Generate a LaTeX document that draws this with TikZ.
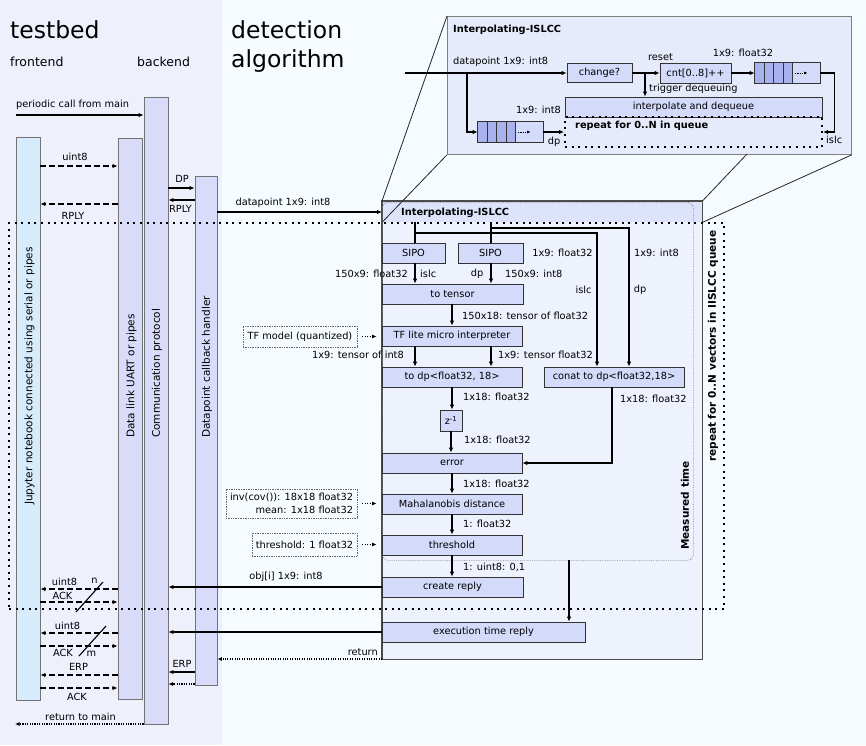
\documentclass[tikz,border=0pt]{standalone}
\usepackage{fontspec}
\setmainfont{DejaVu Sans}
\usetikzlibrary{arrows.meta,calc}
\definecolor{leftbg}{RGB}{238,241,252}
\definecolor{rightbg}{RGB}{245,251,254}
\definecolor{jupfill}{RGB}{214,235,251}
\definecolor{barfill}{RGB}{216,219,250}
\definecolor{boxfill}{RGB}{211,218,250}
\definecolor{mainfill}{RGB}{238,242,253}
\definecolor{hdrfill}{RGB}{221,227,251}
\definecolor{insetfill}{RGB}{230,235,251}
\definecolor{cellfill}{RGB}{168,178,238}
\newcommand\lblf{\fontsize{9.8}{11.5}\selectfont}
\newcommand\rotf{\fontsize{10.5}{12}\selectfont}
\newcommand\qcells[1]{%
  \foreach \i in {0,1,2,3}
    \draw[fill=cellfill, line width=0.7pt, draw=black!80] ($(#1.north west)+(\i*9.5,0)$) rectangle ++(9.5,21);
  \draw[densely dotted, line width=0.9pt, -{Latex[length=3.5pt,width=3pt]}] ($(#1.west)+(40,0)$) -- ++(13,0);
}
\begin{document}
\begin{tikzpicture}[x=1pt,y=-1pt,
  lbl/.style={font=\lblf, inner sep=0pt, text=black},
  box/.style={draw=black!80, fill=boxfill, line width=0.8pt, inner sep=0pt, font=\lblf},
  bar/.style={draw=black!55, fill=barfill, line width=0.9pt, inner sep=0pt},
  inbox/.style={draw=black!60, densely dotted, line width=0.7pt, fill=rightbg, inner sep=0pt, font=\lblf},
  rotl/.style={rotate=90, anchor=west, font=\rotf, inner sep=0pt},
  ar/.style={line width=1.5pt, -{Latex[length=5pt,width=4.5pt]}},
  ln/.style={line width=1.5pt},
  sar/.style={line width=1.4pt, -{Latex[length=5pt,width=4.5pt]}},
  dar/.style={line width=1.4pt, dash pattern=on 6pt off 3pt, -{Latex[length=5pt,width=4.5pt]}},
  dotar/.style={line width=1.1pt, dash pattern=on 1.1pt off 1.3pt, -{Latex[length=4.5pt,width=4pt]}},
  loopbox/.style={draw=black, line width=2pt, dash pattern=on 2pt off 4.6pt, inner sep=0pt},
  proj/.style={line width=0.8pt, draw=black!85}
]
\useasboundingbox (0,0) rectangle (866,745);
\fill[leftbg] (0,0) rectangle (222,745);
\fill[rightbg] (222,0) rectangle (866,745);

% titles
\node[anchor=base west, inner sep=0pt, font=\fontsize{23.5}{28}\selectfont] (ttest) at (10,38) {testbed};
\node[anchor=base west, inner sep=0pt, font=\fontsize{12.5}{15}\selectfont] (tfront) at (10,66) {frontend};
\node[anchor=base west, inner sep=0pt, font=\fontsize{12.5}{15}\selectfont] (tback) at (137,66) {backend};
\node[anchor=base west, inner sep=0pt, font=\fontsize{23.5}{28}\selectfont] (tdet) at (231,38) {detection};
\node[anchor=base west, inner sep=0pt, font=\fontsize{23.5}{28}\selectfont] (talg) at (231,67) {algorithm};

% main box
\node[fill=mainfill, minimum width=320pt, minimum height=458pt, inner sep=0pt, anchor=north west] (mainbox) at (382,201) {};
\node[fill=hdrfill, minimum width=320pt, minimum height=21pt, inner sep=0pt, anchor=north west] (hdr) at (382,201) {};
\draw[draw=black!70, line width=1.2pt] (mainbox.north west) rectangle (mainbox.south east);
\node[lbl, anchor=west, font=\lblf\bfseries] (hdrt) at (401,213) {Interpolating-ISLCC};
\node[draw=black!50, densely dotted, rounded corners=6pt, line width=0.7pt, minimum width=311pt, minimum height=358pt, inner sep=0pt, anchor=north west] (mt) at (382,202) {};
\node[rotl, font=\rotf\bfseries] (mtt) at (685,550) {Measured time};

% bars
\node[bar, fill=jupfill, minimum width=24pt, minimum height=563pt] (jup) at (28,418.5) {};
\node[bar, minimum width=24pt, minimum height=561pt] (dl) at (130,418.5) {};
\node[bar, minimum width=24pt, minimum height=627pt] (comm) at (156,410.5) {};
\node[bar, minimum width=22pt, minimum height=509pt] (dcb) at (206,430.5) {};
\node[rotl] (jupt) at (29.5,505) {Jupyter notebook connected using serial or pipes};
\node[rotl] (dlt) at (131.5,438) {Data link UART or pipes};
\node[rotl] (commt) at (157,438) {Communication protocol};
\node[rotl] (dcbt) at (207,438) {Datapoint callback handler};

% inset
\node[draw=black!50, fill=insetfill, line width=0.8pt, minimum width=404pt, minimum height=138pt, inner sep=0pt, anchor=north west] (inset) at (447,16) {};
\coordinate (insb) at (747,154);
\draw[proj] (mainbox.north west) -- (inset.north west);
\draw[proj] (hdr.south west) -- (inset.south west);
\draw[proj] (mainbox.north east) -- (insb);
\draw[proj] (hdr.south east) -- (inset.south east);
\node[lbl, anchor=west, font=\lblf\bfseries] (inst) at (453,30) {Interpolating-ISLCC};
\node[box, minimum width=65pt, minimum height=19pt] (change) at (599.5,73) {change?};
\node[box, minimum width=71pt, minimum height=20pt] (cnt) at (695.5,73) {cnt[0..8]++};
\node[box, minimum width=65pt, minimum height=21pt] (rq) at (787.5,73) {};
\qcells{rq}
\node[box, minimum width=257pt, minimum height=20pt] (interp) at (693.5,107) {interpolate and dequeue};
\node[loopbox, minimum width=257pt, minimum height=30pt] (rep) at (693.5,132) {};
\node[lbl, anchor=west, font=\lblf\bfseries] (rept) at (575,126) {repeat for 0..N in queue};
\node[box, minimum width=65pt, minimum height=21pt] (lq) at (510.5,132) {};
\qcells{lq}
\coordinate (dpin) at (405,73);
\coordinate (br1) at (467,73);
\coordinate (br2) at (645,73);
\draw[ar] (dpin) -- (change.west);
\draw[ar] (br1) |- (lq.west);
\draw[ar] (change.east) -- (cnt.west);
\draw[ar] (br2) -- (br2 |- interp.north);
\draw[ar] (cnt.east) -- (rq.west);
\draw[ar] (rq.east) -- ++(14,0) |- (rep.east);
\draw[ar] (lq.east) -- (lq.east -| rep.west);
\node[lbl, anchor=west] (l_dpi) at (453,62) {datapoint 1x9: int8};
\node[lbl] (l_reset) at (660.5,57) {reset};
\node[lbl, anchor=west] (l_trig) at (649,89) {trigger dequeuing};
\node[lbl] (l_f32) at (743,53) {1x9: float32};
\node[lbl, anchor=west] (l_islci) at (826,140) {islc};
\node[lbl] (l_i8) at (538.5,110) {1x9: int8};
\node[lbl] (l_dpq) at (554,142) {dp};

% main content
\node[box, minimum width=63pt, minimum height=20pt] (sipo1) at (413.5,253) {SIPO};
\node[box, minimum width=65pt, minimum height=20pt] (sipo2) at (490.5,253) {SIPO};
\node[box, minimum width=141pt, minimum height=20pt] (totensor) at (452.5,294) {to tensor};
\node[box, minimum width=140pt, minimum height=20pt] (tflite) at (452,336) {TF lite micro interpreter};
\node[box, minimum width=140pt, minimum height=20pt] (todp) at (452,377) {to dp<float32, 18>};
\node[box, minimum width=140pt, minimum height=20pt] (conat) at (614,377) {conat to dp<float32,18>};
\node[box, minimum width=22pt, minimum height=21pt] (zinv) at (451,420.5) {z\textsuperscript{-1}};
\node[box, minimum width=140pt, minimum height=20pt] (error) at (452,463) {error};
\node[box, minimum width=140pt, minimum height=20pt] (maha) at (452,504) {Mahalanobis distance};
\node[box, minimum width=140pt, minimum height=20pt] (thr) at (452,545) {threshold};
\node[box, minimum width=141pt, minimum height=20pt] (create) at (452.5,587) {create reply};
\node[box, minimum width=203pt, minimum height=20pt] (exec) at (483.5,632) {execution time reply};

\coordinate (islcT) at (415,222);
\coordinate (dpT) at (491,222);
\coordinate (islcH) at (415,233);
\coordinate (dpH) at (491,228);
\draw[ln] (islcT) -- (islcT |- sipo1.north);
\draw[ln] (dpT) -- (dpT |- sipo2.north);
\draw[ar] (islcH) -| ([xshift=-17pt]conat.north);
\draw[ar] (dpH) -| ([xshift=15pt]conat.north);
\draw[ar] (sipo1.south -| islcT) -- (totensor.north -| islcT);
\draw[ar] (sipo2.south -| dpT) -- (totensor.north -| dpT);
\draw[ar] (totensor.south -| tflite.south) -- (tflite.north);
\draw[ar] (tflite.south -| islcT) -- (todp.north -| islcT);
\draw[ar] (tflite.south -| dpT) -- (todp.north -| dpT);
\draw[ar] (todp.south) -- (todp.south |- zinv.north);
\draw[ar] (zinv.south) -- (zinv.south |- error.north);
\draw[ar] ([xshift=-2pt]conat.south) |- (error.east);
\draw[ar] (error.south) -- (maha.north);
\draw[ar] (maha.south) -- (thr.north);
\draw[ar] (thr.south) -- (thr.south |- create.north);
\coordinate (mtx) at (569,560);
\draw[ar] (mtx) -- (mtx |- exec.north);

\node[lbl] (m1) at (562.5,253) {1x9: float32};
\node[lbl] (m2) at (656.5,253) {1x9: int8};
\node[lbl, anchor=east] (m3) at (408,274) {150x9: float32};
\node[lbl, anchor=west] (m4) at (420,274) {islc};
\node[lbl] (m5) at (477,274) {dp};
\node[lbl, anchor=west] (m6) at (505,274) {150x9: int8};
\node[lbl] (m7) at (583.5,290) {islc};
\node[lbl] (m8) at (640,290) {dp};
\node[lbl, anchor=west] (m9) at (462,316) {150x18: tensor of float32};
\node[lbl, anchor=east] (m10) at (404,355) {1x9: tensor of int8};
\node[lbl, anchor=west] (m11) at (498,355) {1x9: tensor float32};
\node[lbl, anchor=west] (m12) at (463,397) {1x18: float32};
\node[lbl, anchor=west] (m13) at (620,399) {1x18: float32};
\node[lbl, anchor=west] (m14) at (464,440) {1x18: float32};
\node[lbl, anchor=west] (m15) at (463,484) {1x18: float32};
\node[lbl, anchor=west] (m16) at (463,524) {1: float32};
\node[lbl, anchor=west] (m17) at (463,567) {1: uint8: 0,1};

% inputs
\node[inbox, minimum width=114pt, minimum height=21pt] (tfm) at (300,336.5) {TF model (quantized)};
\node[inbox, minimum width=131pt, minimum height=29pt, align=right, font=\fontsize{9.8}{13.5}\selectfont] (cov) at (291.5,503.5) {inv(cov()): 18x18 float32\\mean: 1x18 float32};
\node[inbox, minimum width=105pt, minimum height=23pt] (thrv) at (304.5,544.5) {threshold: 1 float32};
\draw[dotar, shorten <=5pt, shorten >=5pt] (tfm.east) -- (tfm.east -| tflite.west);
\draw[dotar, shorten <=5pt, shorten >=5pt] (cov.east) -- (cov.east -| maha.west);
\draw[dotar, shorten <=5pt, shorten >=5pt] (thrv.east) -- (thrv.east -| thr.west);

% loop
\node[loopbox, minimum width=715pt, minimum height=386pt, anchor=north west] (loop) at (8,222) {};
\node[rotl, font=\rotf\bfseries] (loopt) at (713,462) {repeat for 0..N vectors in IISLCC queue};

% sequence arrows top
\coordinate (pcs) at (16,115);
\draw[sar] (pcs) -- (pcs -| comm.west);
\node[lbl, anchor=west] (l_pc) at (16,105) {periodic call from main};
\draw[dar] (jup.east |- 0,166) -- (dl.west |- 0,166);
\node[lbl] (l_u1) at (75,157) {uint8};
\draw[dar] (dl.west |- 0,204) -- (jup.east |- 0,204);
\node[lbl] (l_r1) at (73,216) {RPLY};
\draw[sar] (comm.east |- 0,188) -- (dcb.west |- 0,188);
\node[lbl] (l_dp) at (182,179) {DP};
\draw[sar] (dcb.west |- 0,200) -- (comm.east |- 0,200);
\node[lbl] (l_r2) at (180.5,209) {RPLY};
\draw[sar] (dcb.east |- 0,212) -- (mainbox.west |- 0,212);
\node[lbl] (l_dpm) at (283,203) {datapoint 1x9: int8};

% sequence arrows bottom
\draw[dar] (dl.west |- 0,589) -- (jup.east |- 0,589);
\node[lbl] (l_u2) at (64.5,582) {uint8};
\node[lbl] (l_n) at (94.5,581) {n};
\draw[dar] (jup.east |- 0,602) -- (dl.west |- 0,602);
\node[lbl] (l_a1) at (62.5,596) {ACK};
\coordinate (s1a) at (76,612); \coordinate (s1b) at (103,582);
\draw[line width=1.1pt] (s1a) -- (s1b);
\draw[dar] (dl.west |- 0,633) -- (jup.east |- 0,633);
\node[lbl] (l_u3) at (67.5,626) {uint8};
\draw[dar] (jup.east |- 0,646) -- (dl.west |- 0,646);
\node[lbl] (l_a2) at (63,653) {ACK};
\node[lbl] (l_m) at (91.5,654) {m};
\coordinate (s2a) at (79,656); \coordinate (s2b) at (106,626);
\draw[line width=1.1pt] (s2a) -- (s2b);
\node[lbl] (l_e1) at (78.5,667) {ERP};
\draw[dar] (dl.west |- 0,675) -- (jup.east |- 0,675);
\draw[dar] (jup.east |- 0,688) -- (dl.west |- 0,688);
\node[lbl] (l_a3) at (77,697) {ACK};
\coordinate (rtm) at (15,724);
\draw[dotar] (comm.west |- rtm) -- (rtm);
\node[lbl] (l_rtm) at (80.5,717) {return to main};
\node[lbl] (l_e2) at (182,664) {ERP};
\draw[sar] (dcb.west |- 0,672) -- (comm.east |- 0,672);
\draw[dotar] (dcb.west |- 0,684) -- (comm.east |- 0,684);
\draw[sar] (create.west) -- (create.west -| comm.east);
\node[lbl] (l_obj) at (286,577) {obj[i] 1x9: int8};
\draw[sar] (exec.west) -- (exec.west -| comm.east);
\draw[dotar] (mainbox.west |- 0,659) -- (dcb.east |- 0,659);
\node[lbl, anchor=east] (l_ret) at (378,652) {return};
\end{tikzpicture}
\end{document}
